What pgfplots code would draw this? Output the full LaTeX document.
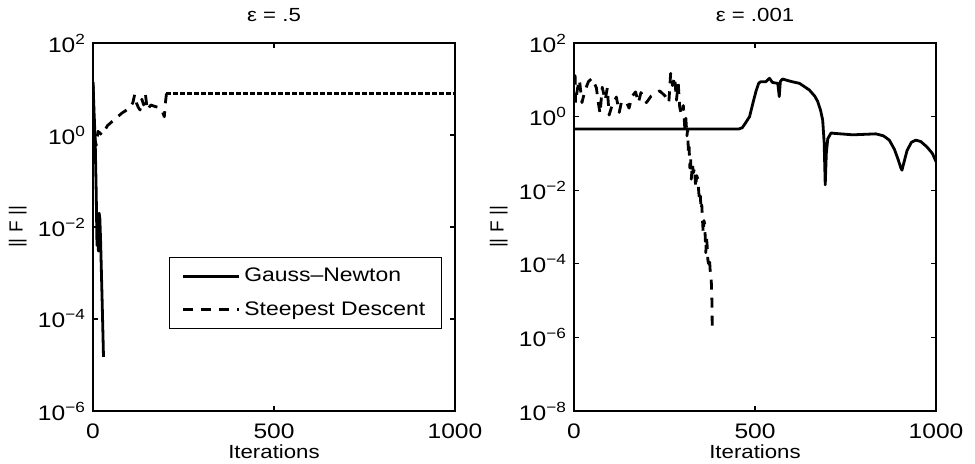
\documentclass[border=0pt]{standalone}
\usepackage{fontspec}
\setmainfont{Liberation Sans}[FakeStretch=1.17]
\newfontfamily\rotfont{Liberation Sans}
\usepackage{pgfplots}
\pgfplotsset{compat=1.18}

\pgfplotsset{
  mypanel/.style={
    scale only axis, width=181pt, height=184pt,
    xmin=0, xmax=1000, xtick={0,500,1000}, xticklabels={0,500,1000},
    tick align=inside, major tick length=2.5pt, yminorticks=false,
    axis line style={line width=0.9pt},
    every tick/.style={black, line width=0.6pt},
    tick label style={font=\fontsize{10.5}{12}\selectfont},
    xticklabel style={yshift=-3pt},
    label style={font=\fontsize{9.5}{11}\selectfont},
    title style={font=\fontsize{9.5}{11}\selectfont, at={(0.5,1)}, anchor=center, yshift=8pt},
    xlabel={Iterations},
    xlabel style={at={(axis description cs:0.5,0)}, anchor=center, yshift=-20.5pt},
    ylabel={\rotfont || F ||},
    ylabel style={at={(axis description cs:-0.208,0.5)}, anchor=center},
  },
  gn/.style={black, line width=1.4pt, line join=round},
  sd/.style={black, line width=1.4pt, line join=round, dash pattern=on 5pt off 4pt},
}

\begin{document}
\begin{tikzpicture}
\useasboundingbox (-46.5pt,-26pt) rectangle (441pt,205.5pt);

\begin{axis}[ymode=log, mypanel, at={(0pt,0pt)}, anchor=south west,
    title={ε = .5},
    ymin=1e-6, ymax=100,
    ytick={1e-6,1e-4,1e-2,1,100},
    yticklabels={10\textsuperscript{−6},10\textsuperscript{−4},10\textsuperscript{−2},10\textsuperscript{0},10\textsuperscript{2}},
    legend style={at={(0.964,0.418)}, anchor=north east, draw=black, line width=0.6pt,
      font=\fontsize{9.8}{11}\selectfont, row sep=4.5pt, inner xsep=6pt, inner ysep=3pt},
    legend cell align=left,
    legend image code/.code={\draw[#1] (0pt,0pt) -- (28pt,0pt);},
]
\addplot[gn] table {
x y
0 14
3 3
6 0.8
9 0.05
11 0.004
13 0.008
15 0.003
17 0.02
19 0.015
21 0.005
25 0.0003
29 0.000015
};
\addlegendentry{Gauss–Newton}
\addplot[sd] table {
x y
0 14
2 3
5 0.8
9 0.6
14 1.2
25 1.0
40 1.6
60 2.2
80 3
100 3.8
110 5
115 7.5
120 5
125 4
130 3.5
135 6
140 4.5
145 7.5
150 3.5
155 4
160 4.5
170 4.2
180 4
190 3.5
197 2.5
200 5
203 8
};
\addlegendentry{Steepest Descent}
\addplot[black, line width=1.4pt, dash pattern=on 2.5pt off 1pt, forget plot] table {
x y
203 8
1000 8
};
\end{axis}

\begin{axis}[ymode=log, mypanel, at={(240.5pt,0pt)}, anchor=south west,
    title={ε = .001},
    ymin=1e-8, ymax=100,
    ytick={1e-8,1e-6,1e-4,1e-2,1,100},
    yticklabels={10\textsuperscript{−8},10\textsuperscript{−6},10\textsuperscript{−4},10\textsuperscript{−2},10\textsuperscript{0},10\textsuperscript{2}},
]
\addplot[gn] table {
x y
0 0.46
455 0.46
465 0.5
475 0.7
485 1.0
495 2.5
503 5
510 8
515 8.8
530 8.9
540 11
548 8.5
563 8
567 3.5
570 9
576 10.5
600 9
623 8
650 5.3
665 3.6
673 2.6
681 1.5
687 0.8
691 0.2
694 0.014
697 0.1
701 0.25
710 0.36
720 0.35
770 0.32
834 0.34
855 0.3
871 0.23
885 0.13
895 0.07
903 0.04
906 0.035
910 0.05
920 0.12
932 0.2
944 0.23
958 0.21
975 0.15
990 0.1
1000 0.06
};
\addplot[sd] table {
x y
0 13
3 13
4 2.4
10 6
15 10
22 2.4
30 5
40 9
50 11
62 6
66 2.8
72 1.2
78 6.3
86 2.8
92 6
97 1.1
105 2
117 3.4
125 1.3
131 2.5
145 2.5
152 1.7
160 3.5
170 4.7
178 2.4
185 4.5
195 3
200 2.4
213 3.6
237 5
252 3.6
262 2.4
267 15
272 7
278 12
283 2.8
288 8
292 1.8
297 1.1
302 2
306 0.5
309 0.9
312 0.3
314 0.45
316 0.1
318 0.15
320 0.04
322 0.08
324 0.02
327 0.05
330 0.03
333 0.04
336 0.012
339 0.025
342 0.02
345 0.008
347 0.005
349 0.007
351 0.003
353 0.004
355 0.0015
357 0.0007
359 0.0015
361 0.0012
363 0.0004
364 0.0002
366 0.0005
368 0.0003
370 0.00012
372 0.0001
374 0.00015
376 0.00007
379 0.00004
381 0.00001
382 0.0000013
};
\end{axis}
\end{tikzpicture}
\end{document}
